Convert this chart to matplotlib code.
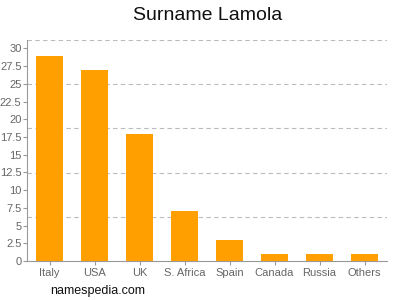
import matplotlib
matplotlib.use("Agg")
import matplotlib.pyplot as plt
import numpy as np

categories = ["Italy", "USA", "UK", "S. Africa", "Spain", "Canada", "Russia", "Others"]
values = [29, 27, 18, 7, 3, 1, 1, 1]
yticks = [0, 2.5, 5, 7.5, 10, 12.5, 15, 17.5, 20, 22.5, 25, 27.5, 30]
ytick_labels = ["0", "2.5", "5", "7.5", "10", "12.5", "15", "17.5", "20", "22.5", "25", "27.5", "30"]

plt.rcParams['font.family'] = ['Liberation Sans', 'DejaVu Sans']

fig = plt.figure(figsize=(4, 3), dpi=100)
ax = fig.add_axes([27/400, 39/300, 360/400, 221/300])

ymax = 31.2
x = np.arange(len(categories))
ax.bar(x, values, width=0.62, color="#FFA000", zorder=3)
ax.set_xlim(-0.5, len(categories) - 0.5)
ax.set_ylim(0, ymax)

for g in np.linspace(0, ymax, 6)[1:]:
    ax.axhline(g, color="#bbbbbb", linestyle=(0, (4, 3)), linewidth=0.8, zorder=1)

ax.set_yticks(yticks)
ax.set_yticklabels(ytick_labels)
ax.set_xticks(x)
ax.set_xticklabels(categories)
ax.tick_params(axis='both', colors="#999999", labelcolor="#666666", labelsize=8, length=3, width=0.8)
ax.tick_params(axis='y', pad=1)
ax.tick_params(axis='x', pad=2)

for s in ["top", "right"]:
    ax.spines[s].set_visible(False)
for s in ["left", "bottom"]:
    ax.spines[s].set_color("#999999")
    ax.spines[s].set_linewidth(0.8)

fig.text(0.518, 0.948, "Surname Lamola", ha="center", va="center", fontsize=14, color="#111111")
fig.text(0.125, 0.03, "namespedia.com", ha="left", va="center", fontsize=9, color="#111111")

fig.savefig("out.png", dpi=100)
